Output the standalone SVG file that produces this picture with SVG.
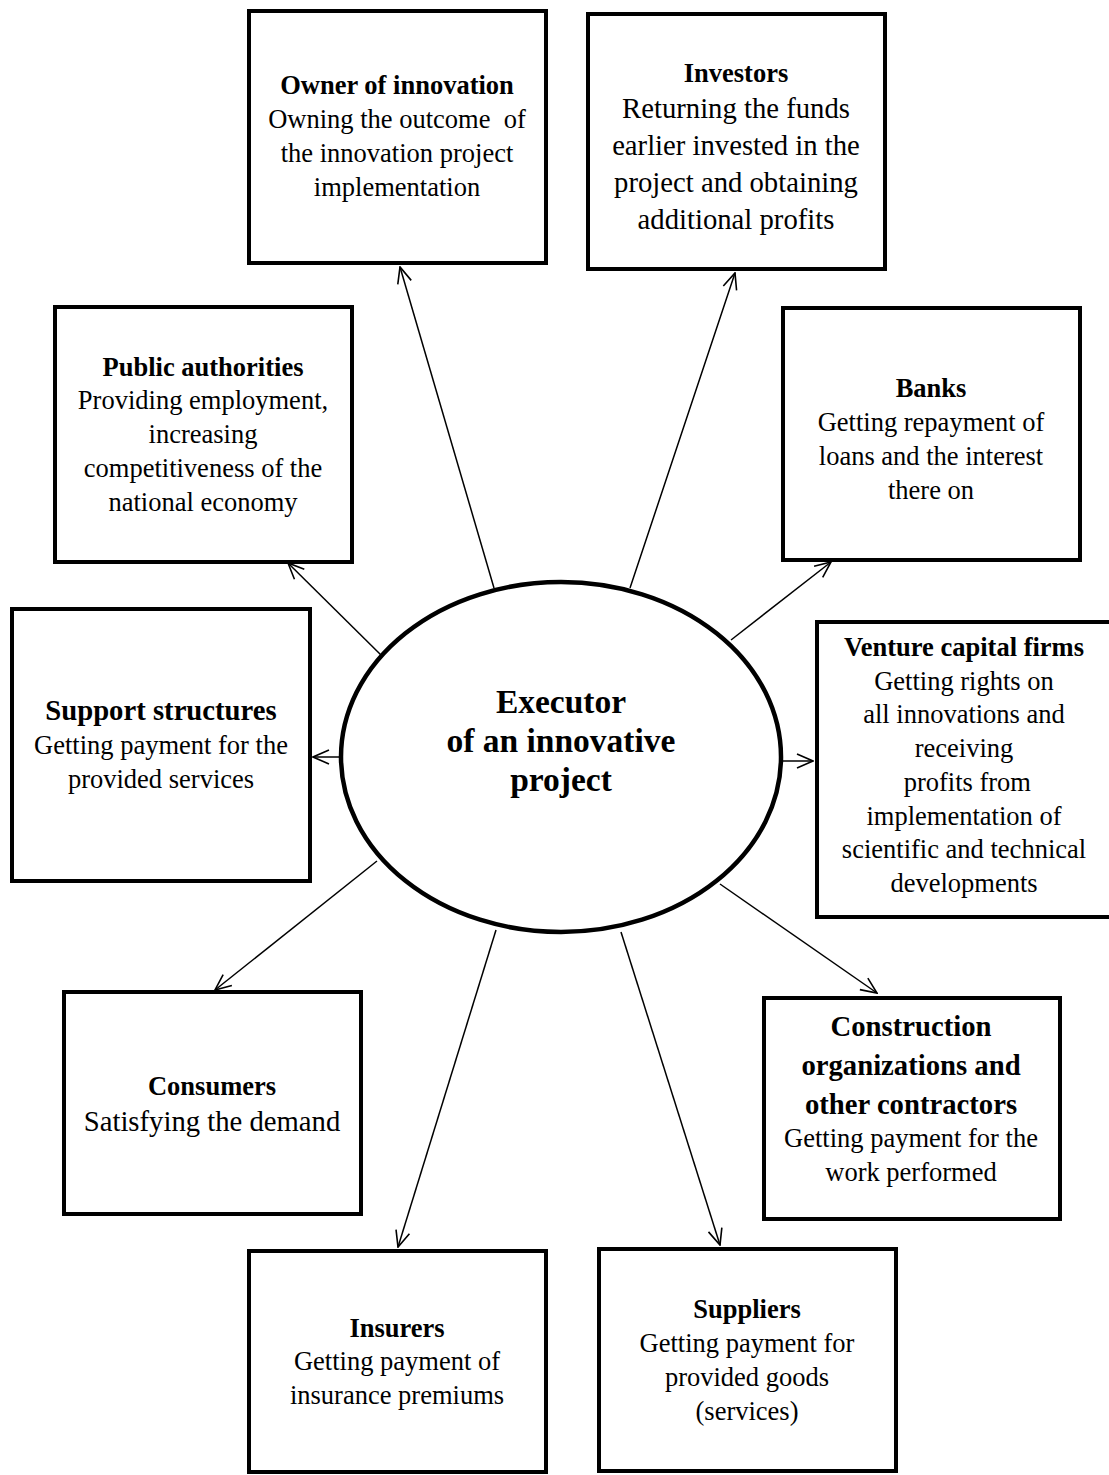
<svg xmlns="http://www.w3.org/2000/svg" width="1109" height="1475" viewBox="0 0 1109 1475">
<style>
.box{fill:#fff;stroke:#000;stroke-width:4}
.t{font-family:"Liberation Serif","Times New Roman",serif;font-size:26.5px;text-anchor:middle;fill:#000;white-space:pre}
.b{font-weight:bold}
.L{font-size:28.7px}
.C{font-size:33.5px;font-weight:bold}
.c{fill:none;stroke:#000;stroke-width:1.5}
</style>
<defs>
<marker id="ah" viewBox="0 0 18 16" refX="17" refY="8" markerWidth="18" markerHeight="16" markerUnits="userSpaceOnUse" orient="auto">
<path d="M1,1 L17,8 L1,15" fill="none" stroke="#000" stroke-width="1.6"/>
</marker>
</defs>
<rect width="1109" height="1475" fill="#fff"/>
<g id="connectors">
<line class="c" x1="494" y1="588" x2="400" y2="267" marker-end="url(#ah)"/>
<line class="c" x1="630" y1="588" x2="735" y2="273" marker-end="url(#ah)"/>
<line class="c" x1="383" y1="657" x2="288" y2="563" marker-end="url(#ah)"/>
<line class="c" x1="731" y1="640" x2="831" y2="562" marker-end="url(#ah)"/>
<line class="c" x1="341" y1="757" x2="313" y2="757" marker-end="url(#ah)"/>
<line class="c" x1="782" y1="761" x2="813" y2="761" marker-end="url(#ah)"/>
<line class="c" x1="377" y1="861" x2="215" y2="990" marker-end="url(#ah)"/>
<line class="c" x1="720" y1="884" x2="877" y2="993" marker-end="url(#ah)"/>
<line class="c" x1="496" y1="930" x2="398" y2="1247" marker-end="url(#ah)"/>
<line class="c" x1="621" y1="932" x2="720" y2="1245" marker-end="url(#ah)"/>
</g>
<g id="executor">
<ellipse cx="561" cy="757" rx="220" ry="175" fill="#fff" stroke="#000" stroke-width="4.5"/>
<text class="t C" x="561" y="713">Executor</text>
<text class="t C" x="561" y="752">of an innovative</text>
<text class="t C" x="561" y="791">project</text>
</g>
<g id="owner">
<rect class="box" x="249" y="11" width="297" height="252"/>
<text class="t b" x="397" y="94">Owner of innovation</text>
<text class="t" x="397" y="128">Owning the outcome  of</text>
<text class="t" x="397" y="162">the innovation project</text>
<text class="t" x="397" y="196">implementation</text>
</g>
<g id="investors">
<rect class="box" x="588" y="14" width="297" height="255"/>
<text class="t b" x="736" y="82">Investors</text>
<text class="t L" x="736" y="118">Returning the funds</text>
<text class="t L" x="736" y="155">earlier invested in the</text>
<text class="t L" x="736" y="192">project and obtaining</text>
<text class="t L" x="736" y="229">additional profits</text>
</g>
<g id="public">
<rect class="box" x="55" y="307" width="297" height="255"/>
<text class="t b" x="203" y="376">Public authorities</text>
<text class="t" x="203" y="409">Providing employment,</text>
<text class="t" x="203" y="443">increasing</text>
<text class="t" x="203" y="477">competitiveness of the</text>
<text class="t" x="203" y="511">national economy</text>
</g>
<g id="banks">
<rect class="box" x="783" y="308" width="297" height="252"/>
<text class="t b" x="931" y="397">Banks</text>
<text class="t" x="931" y="431">Getting repayment of</text>
<text class="t" x="931" y="465">loans and the interest</text>
<text class="t" x="931" y="499">there on</text>
</g>
<g id="support">
<rect class="box" x="12" y="609" width="298" height="272"/>
<text class="t b L" x="161" y="720">Support structures</text>
<text class="t" x="161" y="754">Getting payment for the</text>
<text class="t" x="161" y="788">provided services</text>
</g>
<g id="venture">
<rect class="box" x="817" y="622" width="294" height="295"/>
<text class="t b" x="964" y="656">Venture capital firms</text>
<text class="t" x="964" y="690">Getting rights on</text>
<text class="t" x="964" y="723">all innovations and</text>
<text class="t" x="964" y="757">receiving</text>
<text class="t" x="964" y="791"> profits from</text>
<text class="t" x="964" y="825">implementation of</text>
<text class="t" x="964" y="858">scientific and technical</text>
<text class="t" x="964" y="892">developments</text>
</g>
<g id="consumers">
<rect class="box" x="64" y="992" width="297" height="222"/>
<text class="t b" x="212" y="1095">Consumers</text>
<text class="t L" x="212" y="1131">Satisfying the demand</text>
</g>
<g id="construction">
<rect class="box" x="764" y="998" width="296" height="221"/>
<text class="t b L" x="911" y="1036">Construction</text>
<text class="t b L" x="911" y="1075">organizations and</text>
<text class="t b L" x="911" y="1114">other contractors</text>
<text class="t" x="911" y="1147">Getting payment for the</text>
<text class="t" x="911" y="1181">work performed</text>
</g>
<g id="insurers">
<rect class="box" x="249" y="1251" width="297" height="221"/>
<text class="t b" x="397" y="1337">Insurers</text>
<text class="t" x="397" y="1370">Getting payment of</text>
<text class="t" x="397" y="1404">insurance premiums</text>
</g>
<g id="suppliers">
<rect class="box" x="599" y="1249" width="297" height="222"/>
<text class="t b" x="747" y="1318">Suppliers</text>
<text class="t" x="747" y="1352">Getting payment for</text>
<text class="t" x="747" y="1386">provided goods</text>
<text class="t" x="747" y="1420">(services)</text>
</g>
</svg>
